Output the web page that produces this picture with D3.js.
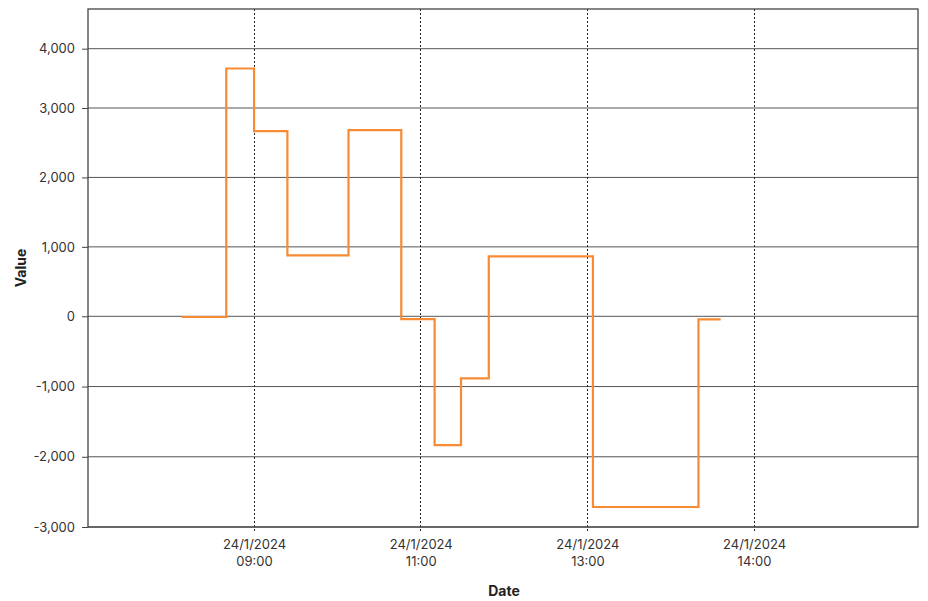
<!DOCTYPE html>
<html>
<head>
<meta charset="utf-8">
<script src="https://cdn.jsdelivr.net/npm/d3@7"></script>
<style>
  html, body { margin: 0; padding: 0; background: #fff; }
  svg { display: block; font-family: Inter, "Open Sans", sans-serif; }
</style>
</head>
<body>
<svg id="chart" width="928" height="601"></svg>
<script>
// ---- data ----
const stepTimes = ["2024-01-24T08:08", "2024-01-24T08:40", "2024-01-24T09:00", "2024-01-24T09:24",
  "2024-01-24T10:08", "2024-01-24T10:46", "2024-01-24T11:10", "2024-01-24T11:29",
  "2024-01-24T11:49", "2024-01-24T13:02", "2024-01-24T13:40", "2024-01-24T13:48"];
const stepValues = [-10, 3666, 2666, 878, 2681, -39, -1833, -883, 863, -2715, -43, -43];
const xTickTimes = ["2024-01-24T09:00", "2024-01-24T11:00", "2024-01-24T13:00", "2024-01-24T14:00"];
const xDomainTimes = ["2024-01-24T07:00", "2024-01-24T09:00", "2024-01-24T11:00", "2024-01-24T13:00", "2024-01-24T14:00", "2024-01-24T15:00"];
const yTickValues = [-3000, -2000, -1000, 0, 1000, 2000, 3000, 4000];

(function () {
const parse = d3.timeParse("%Y-%m-%dT%H:%M");
const data = stepTimes.map((t, i) => ({ t: parse(t), v: stepValues[i] }));

const svg = d3.select("#chart");
const mLeft = 88, mRight = 918, mTop = 9, mBottom = 527;

// x: time axis, evenly spaced ticks as in the source
const xDomain = xDomainTimes.map(parse);
const x0 = 87.4, x1 = 920.7;
const x = d3.scaleTime()
  .domain(xDomain)
  .range(xDomain.map((d, i) => x0 + (x1 - x0) * i / (xDomain.length - 1)));

// y: follows the source's tick placement
const y = d3.scaleLinear()
  .domain([-3000, 0, 3000, 4000])
  .range([527, 316.3, 108, 48.7]);

// horizontal grid
svg.append("g")
  .selectAll("line")
  .data(yTickValues)
  .join("line")
  .attr("x1", mLeft).attr("x2", mRight)
  .attr("y1", d => y(d)).attr("y2", d => y(d))
  .attr("stroke", "#555").attr("stroke-width", 1);

// vertical dotted grid
const xTicks = xTickTimes.map(parse);
svg.append("g")
  .selectAll("line")
  .data(xTicks)
  .join("line")
  .attr("x1", d => Math.floor(x(d)) + 0.5).attr("x2", d => Math.floor(x(d)) + 0.5)
  .attr("y1", mTop).attr("y2", mBottom + 6)
  .attr("stroke", "#222").attr("stroke-width", 1)
  .attr("stroke-dasharray", "2,2");

// frame
svg.append("rect")
  .attr("x", mLeft).attr("y", mTop)
  .attr("width", mRight - mLeft).attr("height", mBottom - mTop)
  .attr("fill", "none").attr("stroke", "#444").attr("stroke-width", 1.3);

// y axis
const fmtY = d3.format(",");
const yAxis = svg.append("g")
  .attr("transform", `translate(${mLeft},0)`)
  .call(d3.axisLeft(y).tickValues(yTickValues).tickSize(6).tickPadding(7)
    .tickFormat(d => fmtY(d).replace("\u2212", "-")));
yAxis.select(".domain").remove();
yAxis.selectAll(".tick line").attr("stroke", "#444");
yAxis.selectAll("text").attr("fill", "#333").style("font-size", "13px")
  .style("font-family", "Inter, 'Open Sans', sans-serif");

// x axis labels
const fmtDate = d3.timeFormat("%-d/%-m/%Y");
const fmtTime = d3.timeFormat("%H:%M");
const xAxis = svg.append("g")
  .attr("transform", `translate(0,${mBottom})`)
  .call(d3.axisBottom(x).tickValues(xTicks).tickSize(0).tickFormat(""));
xAxis.select(".domain").remove();
xAxis.selectAll(".tick").each(function (d) {
  const t = d3.select(this).append("text")
    .attr("fill", "#333").attr("text-anchor", "middle")
    .style("font-size", "13px")
    .style("font-family", "Inter, 'Open Sans', sans-serif");
  t.append("tspan").attr("x", 0).attr("y", 22).text(fmtDate(d));
  t.append("tspan").attr("x", 0).attr("y", 39).text(fmtTime(d));
});

// step line
const line = d3.line()
  .x(d => x(d.t))
  .y(d => y(d.v))
  .curve(d3.curveStepAfter);
svg.append("path")
  .datum(data)
  .attr("d", line)
  .attr("fill", "none")
  .attr("stroke", "#f68b34")
  .attr("stroke-width", 2.2);

// axis titles
svg.append("text")
  .attr("x", 504).attr("y", 596)
  .attr("text-anchor", "middle")
  .style("font-size", "14px").style("font-weight", "bold")
  .attr("fill", "#222")
  .text("Date");
svg.append("text")
  .attr("transform", `translate(26,${(mTop + mBottom) / 2}) rotate(-90)`)
  .attr("text-anchor", "middle")
  .style("font-size", "14px").style("font-weight", "bold")
  .attr("fill", "#222")
  .text("Value");
})();
</script>
</body>
</html>
